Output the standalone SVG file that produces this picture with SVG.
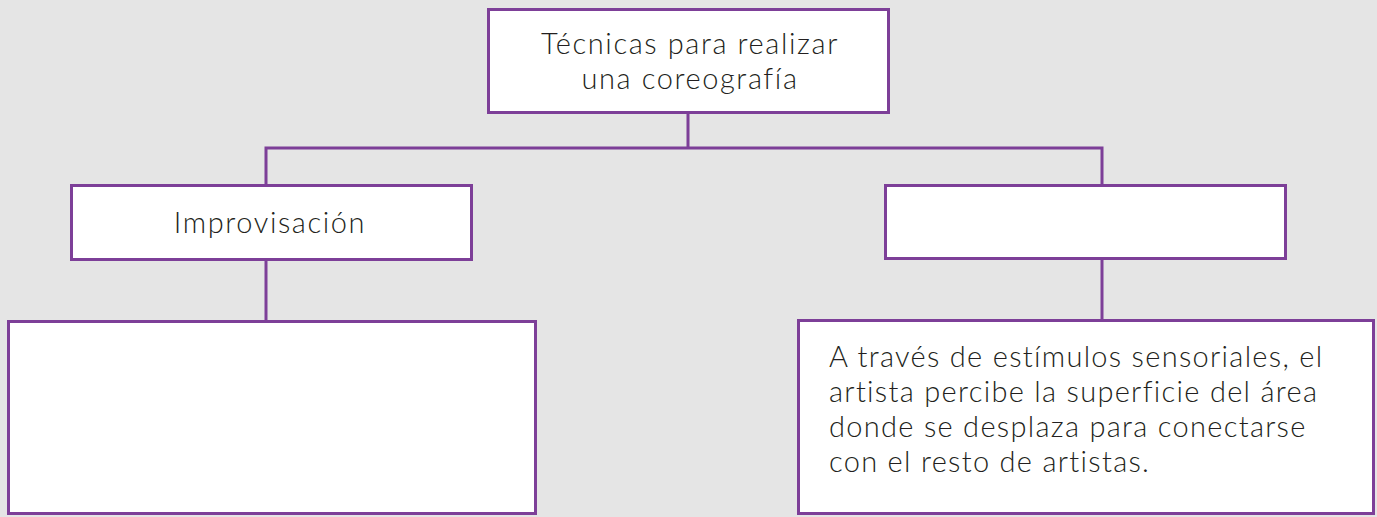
<svg xmlns="http://www.w3.org/2000/svg" width="1377" height="517" viewBox="0 0 1377 517">
<style>
.box{fill:#ffffff;stroke:#7d3f98;stroke-width:3}
.conn{fill:none;stroke:#7d3f98;stroke-width:3}
.t{font-family:Lato,"Open Sans","Liberation Sans",sans-serif;font-size:29px;font-weight:300;fill:#231f20;letter-spacing:1.3px}
.c{text-anchor:middle;letter-spacing:1.6px}
</style>
<rect x="0" y="0" width="1377" height="517" fill="#e5e5e5"/>
<g id="connectors">
<path class="conn" d="M688,113 V148 M266,185 V148 H1102 V185"/>
<path class="conn" d="M266,260 V321"/>
<path class="conn" d="M1102,259 V321"/>
</g>
<g id="root">
<rect class="box" x="488.5" y="9.5" width="400" height="103"/>
<text class="t c"><tspan x="690" y="54">Técnicas para realizar</tspan><tspan x="690" y="89">una coreografía</tspan></text>
</g>
<g id="improvisacion">
<rect class="box" x="71.5" y="185.5" width="400" height="74"/>
<text class="t c" x="270" y="233">Improvisación</text>
</g>
<g id="tecnica2">
<rect class="box" x="885.5" y="185.5" width="400" height="73"/>
</g>
<g id="desc-left">
<rect class="box" x="8.5" y="321.5" width="527" height="192"/>
</g>
<g id="desc-right">
<rect class="box" x="798.5" y="320.5" width="575" height="193"/>
<text class="t"><tspan x="829" y="367">A través de estímulos sensoriales, el</tspan><tspan x="829" y="402">artista percibe la superficie del área</tspan><tspan x="829" y="437">donde se desplaza para conectarse</tspan><tspan x="829" y="472">con el resto de artistas.</tspan></text>
</g>
</svg>
